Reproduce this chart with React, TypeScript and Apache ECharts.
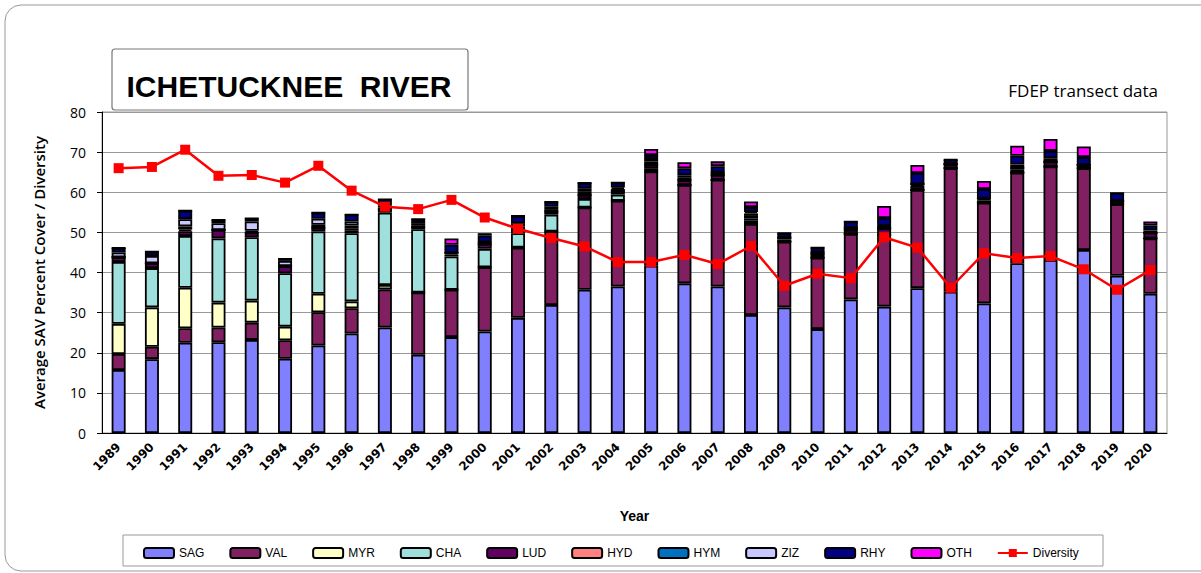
import React, { useEffect, useRef } from "react";
import * as echarts from "echarts";

const years = ["1989","1990","1991","1992","1993","1994","1995","1996","1997","1998","1999","2000","2001","2002","2003","2004","2005","2006","2007","2008","2009","2010","2011","2012","2013","2014","2015","2016","2017","2018","2019","2020"];

const SAG = [15.7,18.4,22.5,22.6,23.2,18.5,21.8,24.8,26.3,19.5,23.9,25.3,28.7,31.9,35.7,36.5,41.7,37.3,36.5,29.4,31.3,25.9,33.3,31.5,36.1,35.2,32.3,42.3,43.1,45.6,39.2,34.7];
const VAL = [4.0,3.1,3.6,3.7,4.3,4.6,8.3,6.3,9.5,15.5,11.8,16.0,17.5,18.3,20.5,21.4,23.5,24.5,26.6,22.7,16.4,17.8,16.3,17.9,24.5,30.8,25.1,22.6,23.3,20.4,17.8,13.8];
const MYR = [7.5,9.8,10.1,6.2,5.5,3.4,4.6,1.7,1.1,0,0,0,0,0,0,0,0,0,0,0,0,0,0,0,0,0,0,0,0,0,0,0];
const CHA = [15.4,9.8,12.9,16.0,15.8,13.3,15.5,17.0,18.0,15.8,8.3,4.6,3.6,4.2,2.1,1.5,0.8,0,0,0.8,0,0,0,0,0,0,0,0,0,0,0,0];
const LUD = [1.2,1.2,1.2,2.1,1.2,1.8,1.0,0.6,0.8,0.5,0.5,1.2,1.2,0.8,1.0,0.8,0.9,1.2,1.2,0.6,0.5,0.8,1.0,1.6,1.0,1.0,0.6,0.7,1.2,0.8,0.8,1.4];
const HYD = [0,0,0.4,0,0,0,0,0.5,0,0,0.4,0,0,0,0,0,0,0,0,0.6,0.5,0,0,0,0.4,0,0.4,0.5,0,0,0,0];
const HYM = [0,0,0.8,0,0.4,0,0.7,0.8,0.5,0.5,0,0.4,0.5,0.6,0.8,0.6,0.8,0.6,0.6,0.6,0,0.5,0.5,0,0,0,0,0,0,0,0,0];
const ZIZ = [1.2,1.8,1.8,1.7,2.3,1.3,1.5,1.0,0.5,0.5,0,0,0.8,0.6,0.8,0.4,0.6,0.6,0,0.4,0,0,0,0.6,0,0,0,0.8,0.9,0,0,0.6];
const RHY = [1.1,1.1,2.1,0.8,0.8,0.5,1.5,1.7,1.5,1.0,2.0,1.7,1.8,1.2,1.4,1.2,1.0,1.8,1.6,1.2,1.1,1.2,1.6,2.0,2.8,1.1,2.4,2.2,1.8,2.0,2.0,1.2];
const OTH = [0,0,0,0,0,0,0,0,0,0,1.6,0.6,0,0,0,0,1.5,1.5,1.2,1.4,0,0,0,3.0,2.0,0,2.0,2.5,3.0,2.6,0,1.0];
const Diversity = [66.0,66.3,70.6,64.1,64.3,62.4,66.6,60.4,56.4,55.8,58.1,53.7,50.9,48.6,46.5,42.6,42.6,44.4,42.1,46.6,36.7,39.7,38.6,48.8,46.2,36.2,44.8,43.6,44.1,40.8,35.7,40.6];

const barSeries: [string, number[], string][] = [
  ["SAG", SAG, "#8080FF"],
  ["VAL", VAL, "#802060"],
  ["MYR", MYR, "#FFFFC8"],
  ["CHA", CHA, "#A0E0DC"],
  ["LUD", LUD, "#600060"],
  ["HYD", HYD, "#FF8080"],
  ["HYM", HYM, "#0070C0"],
  ["ZIZ", ZIZ, "#C8C8FF"],
  ["RHY", RHY, "#000080"],
  ["OTH", OTH, "#FF00FF"],
];

export default function App() {
  const ref = useRef<HTMLDivElement>(null);
  useEffect(() => {
    document.body.style.margin = "0";
    const chart = echarts.init(ref.current!, undefined, { renderer: "svg" });
    const font = "Liberation Sans, Arial, sans-serif";
    const human = "Open Sans, Noto Sans, sans-serif";
    const series: any[] = barSeries.map(([name, data, color]) => ({
      name,
      type: "bar",
      stack: "total",
      data,
      barWidth: 14,
      itemStyle: { color, borderColor: "#000", borderWidth: 1.8 },
    }));
    series.push({
      name: "Diversity",
      type: "line",
      data: Diversity,
      symbol: "rect",
      symbolSize: 10,
      lineStyle: { color: "#FF0000", width: 2.5 },
      itemStyle: { color: "#FF0000" },
      z: 5,
    });
    chart.setOption({
      animation: false,
      backgroundColor: "#fff",
      textStyle: { fontFamily: font },
      grid: { left: 102, right: 34, top: 112, bottom: 140, show: true, borderColor: "#999", borderWidth: 1 },
      xAxis: {
        type: "category",
        data: years,
        name: "Year",
        nameLocation: "middle",
        nameGap: 76,
        nameTextStyle: { fontWeight: "bold", fontSize: 14, color: "#000", fontFamily: font },
        axisLine: { lineStyle: { color: "#000", width: 1 } },
        axisTick: { lineStyle: { color: "#000" }, length: 5 },
        axisLabel: { rotate: 45, fontWeight: "bold", fontSize: 12, color: "#000", margin: 12, interval: 0, fontFamily: "DejaVu Sans, sans-serif" },
      },
      yAxis: {
        type: "value",
        min: 0,
        max: 80,
        interval: 10,
        name: "Average SAV Percent Cover / Diversity",
        nameLocation: "middle",
        nameGap: 56,
        nameTextStyle: { fontWeight: 600, fontSize: 15, color: "#000", fontFamily: human },
        axisLine: { show: true, lineStyle: { color: "#000" } },
        axisTick: { show: true, length: 5, lineStyle: { color: "#000" } },
        axisLabel: { fontSize: 14, color: "#000", margin: 16, fontFamily: human },
        splitLine: { lineStyle: { color: "#999", width: 1 } },
      },
      legend: {
        left: 138,
        top: 542,
        itemWidth: 30,
        itemHeight: 10,
        itemGap: 25,
        textStyle: { fontSize: 12, color: "#000", fontFamily: font },
        data: [...barSeries.map((s) => s[0]), "Diversity"],
      },
      graphic: [
        { type: "rect", shape: { x: 5, y: 5, width: 1240, height: 566, r: 16 }, style: { fill: "none", stroke: "#999", lineWidth: 1 }, z: -1 },
        { type: "rect", shape: { x: 112, y: 49, width: 356, height: 61, r: 3 }, style: { fill: "#fff", stroke: "#777", lineWidth: 1.2 }, z: 10 },
        { type: "text", x: 289, y: 86, style: { text: "ICHETUCKNEE  RIVER", fontSize: 30, fontWeight: "bold", fill: "#000", align: "center", verticalAlign: "middle", fontFamily: font }, z: 11 },
        { type: "text", x: 1158, y: 90, style: { text: "FDEP transect data", fontSize: 17, fill: "#000", align: "right", verticalAlign: "middle", fontFamily: human }, z: 11 },
        { type: "rect", shape: { x: 123, y: 535, width: 980, height: 31 }, style: { fill: "none", stroke: "#999", lineWidth: 1 } },
      ],
      series,
    });
    return () => chart.dispose();
  }, []);
  return <div ref={ref} style={{ position: "fixed", left: 0, top: 0, width: 1201, height: 573 }} />;
}
